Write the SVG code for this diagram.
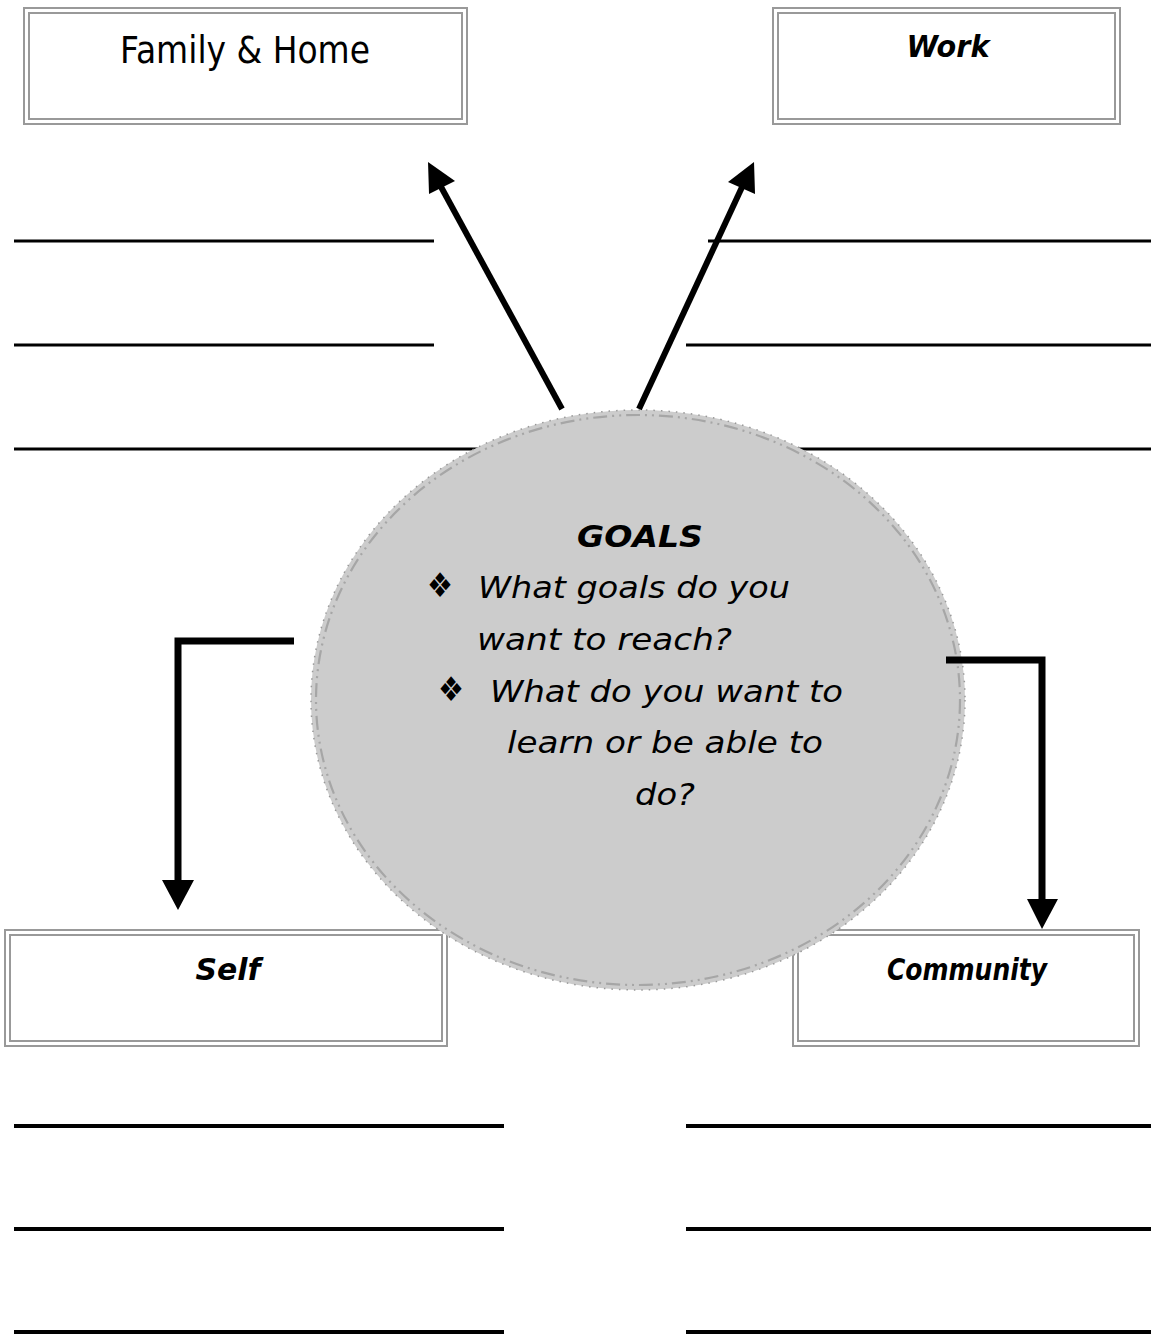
<svg xmlns="http://www.w3.org/2000/svg" width="1151" height="1334" viewBox="0 0 1151 1334">
<style>
.frame{fill:none;stroke:#999;stroke-width:2}
.rule{stroke:#000;stroke-width:3}
.rule2{stroke:#000;stroke-width:4}
.conn{fill:none;stroke:#000;stroke-width:6}
.elbow{fill:none;stroke:#000;stroke-width:7}
.head{fill:#000}
.t{font-family:"DejaVu Sans",sans-serif;fill:#000}
.lbl{font-family:"DejaVu Sans",sans-serif;font-weight:bold;font-style:italic;fill:#000;text-anchor:middle}
.body{font-family:"DejaVu Sans",sans-serif;font-style:italic;fill:#000;font-size:31px}
.bul{font-family:"DejaVu Sans",sans-serif;fill:#000;font-size:34px}
</style>
<rect width="1151" height="1334" fill="#fff"/>
<g id="rules">
<line class="rule" x1="14" y1="241" x2="434" y2="241"/>
<line class="rule" x1="14" y1="345" x2="434" y2="345"/>
<line class="rule" x1="14" y1="449" x2="500" y2="449"/>
<line class="rule" x1="708" y1="241" x2="1151" y2="241"/>
<line class="rule" x1="686" y1="345" x2="1151" y2="345"/>
<line class="rule" x1="770" y1="449" x2="1151" y2="449"/>
<line class="rule2" x1="14" y1="1126" x2="504" y2="1126"/>
<line class="rule2" x1="14" y1="1229" x2="504" y2="1229"/>
<line class="rule2" x1="14" y1="1332" x2="504" y2="1332"/>
<line class="rule2" x1="686" y1="1126" x2="1151" y2="1126"/>
<line class="rule2" x1="686" y1="1229" x2="1151" y2="1229"/>
<line class="rule2" x1="686" y1="1332" x2="1151" y2="1332"/>
</g>
<g id="family">
<rect class="frame" x="24" y="8" width="443" height="116"/>
<rect class="frame" x="29" y="13" width="433" height="106"/>
<text class="t" x="120" y="63" font-size="37" textLength="250" lengthAdjust="spacingAndGlyphs">Family &amp; Home</text>
</g>
<g id="work">
<rect class="frame" x="773" y="8" width="347" height="116"/>
<rect class="frame" x="778" y="13" width="337" height="106"/>
<text class="lbl" x="948" y="57" font-size="31" textLength="83" lengthAdjust="spacingAndGlyphs">Work</text>
</g>
<g id="self">
<rect class="frame" x="5" y="930" width="442" height="116"/>
<rect class="frame" x="10" y="935" width="432" height="106"/>
<text class="lbl" x="228" y="980" font-size="30" textLength="65" lengthAdjust="spacingAndGlyphs">Self</text>
</g>
<g id="community">
<rect class="frame" x="793" y="930" width="346" height="116"/>
<rect class="frame" x="798" y="935" width="336" height="106"/>
<text class="lbl" x="967" y="980" font-size="30" textLength="160" lengthAdjust="spacingAndGlyphs">Community</text>
</g>
<g id="goals">
<ellipse cx="638" cy="700" rx="327" ry="290" fill="#cccccc" stroke="#999" stroke-width="1.5" stroke-dasharray="1.5 6"/>
<ellipse cx="638" cy="700" rx="322" ry="285" fill="none" stroke="#a6a6a6" stroke-width="2.2" stroke-dasharray="14 5 2 5 2 5"/>
<text class="lbl" x="640" y="547" font-size="30" textLength="126" lengthAdjust="spacingAndGlyphs">GOALS</text>
<text class="bul" x="427" y="597" textLength="26" lengthAdjust="spacingAndGlyphs">❖</text>
<text class="body" x="478" y="598" textLength="312" lengthAdjust="spacingAndGlyphs">What goals do you</text>
<text class="body" x="477" y="650" textLength="255" lengthAdjust="spacingAndGlyphs">want to reach?</text>
<text class="bul" x="438" y="701" textLength="26" lengthAdjust="spacingAndGlyphs">❖</text>
<text class="body" x="490" y="702" textLength="353" lengthAdjust="spacingAndGlyphs">What do you want to</text>
<text class="body" x="507" y="753" textLength="316" lengthAdjust="spacingAndGlyphs">learn or be able to</text>
<text class="body" x="635" y="805" textLength="60" lengthAdjust="spacingAndGlyphs">do?</text>
</g>
<g id="connectors">
<line class="conn" x1="562" y1="409" x2="440" y2="185"/>
<polygon class="head" points="428,162 429,194 455,181"/>
<line class="conn" x1="639" y1="409" x2="743" y2="185"/>
<polygon class="head" points="754,162 728,182 755,194"/>
<polyline class="elbow" points="294,641 178,641 178,882"/>
<polygon class="head" points="162,880 194,880 178,910"/>
<polyline class="elbow" points="946,660 1042,660 1042,901"/>
<polygon class="head" points="1027,899 1058,899 1042,929"/>
</g>
</svg>
